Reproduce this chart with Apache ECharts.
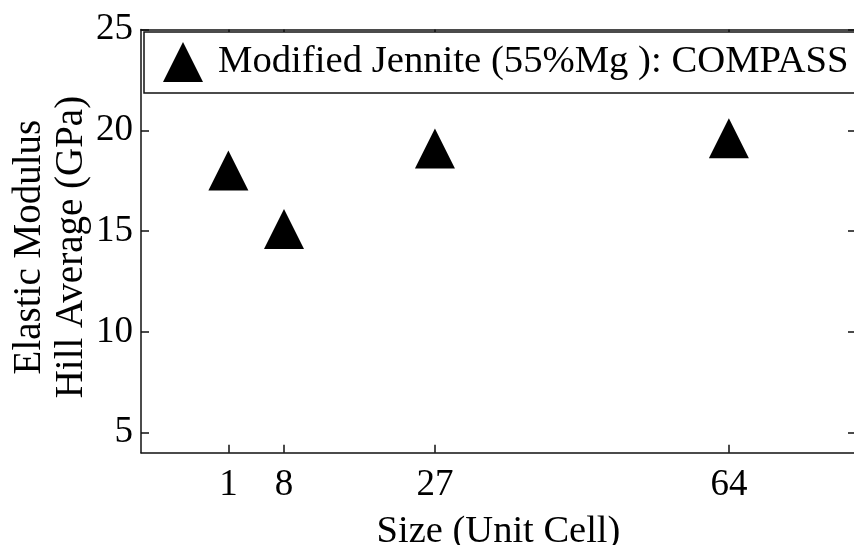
<!DOCTYPE html>
<html><head><meta charset="utf-8">
<script src="https://cdn.jsdelivr.net/npm/echarts@6/dist/echarts.min.js"></script>
<style>html,body{margin:0;padding:0;background:#fff}#c{width:854px;height:545px}</style>
</head><body><div id="c"></div>
<script>
const seriesName = 'Modified Jennite (55%Mg ): COMPASS';
const sizes = [1, 8, 27, 64];
const modulus = [18, 15.1, 19.1, 19.6];
const xTicks = [1, 8, 27, 64];
const yTicks = [5, 10, 15, 20, 25];
const xTitle = 'Size (Unit Cell)';
const yTitle = 'Elastic Modulus\nHill Average (GPa)';

const font = 'Liberation Serif';
const lineStyle = {color: '#111', width: 1.5};
const chart = echarts.init(document.getElementById('c'));
const common = {
  axisLine: {show: true, onZero: false, lineStyle: lineStyle},
  splitLine: {show: false},
};
chart.setOption({
  backgroundColor: '#fff',
  animation: false,
  grid: {left: 141, top: 29.5, right: -2, bottom: 92.3, containLabel: false, outerBoundsMode: 'none'},
  legend: {
    left: 144, top: 32, orient: 'horizontal',
    padding: [10, 20, 11, 19],
    itemWidth: 40, itemHeight: 40,
    borderColor: '#111', borderWidth: 1.5, backgroundColor: '#fff',
    textStyle: {fontFamily: font, fontSize: 38.7, color: '#000', padding: [0, 0, 0, 10]},
    data: [{name: seriesName, icon: 'triangle'}]
  },
  xAxis: [{
    type: 'value', min: -10, max: 80, position: 'bottom',
    ...common,
    axisTick: {show: true, inside: true, length: 8, lineStyle: lineStyle, customValues: xTicks},
    axisLabel: {fontFamily: font, fontSize: 37, color: '#000', margin: 14, customValues: xTicks},
    name: xTitle, nameLocation: 'middle', nameGap: 60, nameMoveOverlap: false,
    nameTextStyle: {fontFamily: font, fontSize: 38.5, color: '#000'}
  }, {
    type: 'value', min: -10, max: 80, position: 'top',
    ...common,
    axisTick: {show: true, inside: true, length: 8, lineStyle: lineStyle, customValues: xTicks},
    axisLabel: {show: false}
  }],
  yAxis: [{
    type: 'value', min: 4, max: 25, position: 'left',
    ...common,
    axisTick: {show: true, inside: true, length: 8, lineStyle: lineStyle, customValues: yTicks},
    axisLabel: {fontFamily: font, fontSize: 37, color: '#000', margin: 8, customValues: yTicks},
    name: yTitle, nameLocation: 'middle', nameGap: 48, nameRotate: 90, nameMoveOverlap: false,
    nameTextStyle: {fontFamily: font, fontSize: 39, color: '#000', lineHeight: 42, padding: [0, 12, 0, 0]}
  }, {
    type: 'value', min: 4, max: 25, position: 'right',
    ...common,
    axisTick: {show: true, inside: true, length: 8, lineStyle: lineStyle, customValues: yTicks},
    axisLabel: {show: false}
  }],
  series: [{
    name: seriesName, type: 'scatter', symbol: 'triangle', symbolSize: [40, 40],
    itemStyle: {color: '#000', opacity: 1},
    data: sizes.map((s, i) => [s, modulus[i]])
  }]
});
</script></body></html>
